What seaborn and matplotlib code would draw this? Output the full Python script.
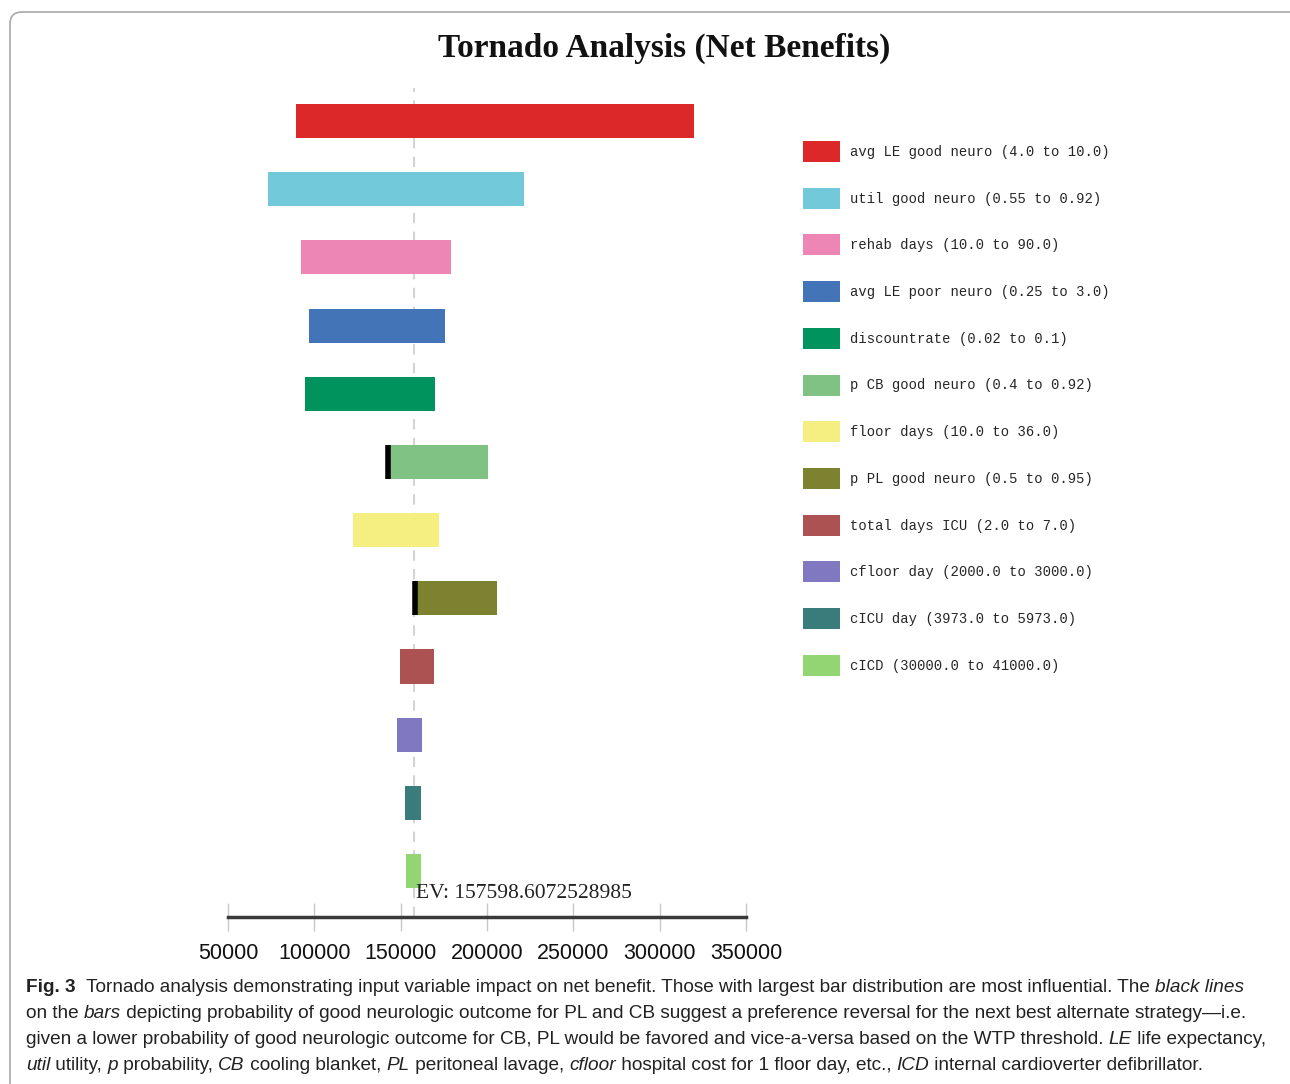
import numpy as np
import pandas as pd
import matplotlib
matplotlib.use("Agg")
import matplotlib.pyplot as plt
import seaborn as sns
from matplotlib.patches import Patch, FancyBboxPatch
from matplotlib.transforms import blended_transform_factory

# ---- data ----
names = ['avg LE good neuro', 'util good neuro', 'rehab days', 'avg LE poor neuro',
         'discountrate', 'p CB good neuro', 'floor days', 'p PL good neuro',
         'total days ICU', 'cfloor day', 'cICU day', 'cICD']
ranges = ['(4.0 to 10.0)', '(0.55 to 0.92)', '(10.0 to 90.0)', '(0.25 to 3.0)',
          '(0.02 to 0.1)', '(0.4 to 0.92)', '(10.0 to 36.0)', '(0.5 to 0.95)',
          '(2.0 to 7.0)', '(2000.0 to 3000.0)', '(3973.0 to 5973.0)', '(30000.0 to 41000.0)']
low = [89400, 73200, 92300, 96900, 94600, 142000, 122400, 158300, 149600, 147900, 152500, 153100]
high = [319900, 221400, 179200, 175700, 169900, 200600, 172200, 205800, 169300, 162400, 161800, 161800]
colors = ['#dc2828', '#72c9d9', '#ee86b5', '#4374b8', '#00935e', '#80c283',
          '#f5ee80', '#7c8230', '#ad5252', '#8078c0', '#3a7c7c', '#93d572']
# preference reversal points (black lines)
switch_names = ['p CB good neuro', 'p PL good neuro']
switch_values = [142600, 158500]
ev = 157598.6072528985
ticks = [50000, 100000, 150000, 200000, 250000, 300000, 350000]

df = pd.DataFrame({'name': names, 'low': low, 'high': high})
df['width'] = df['high'] - df['low']

sns.set_style('white')
plt.rcParams['font.family'] = ['DejaVu Sans']

W, H = 1290, 1084
fig = plt.figure(figsize=(W / 100, H / 100), dpi=100)
ax = fig.add_axes([228 / W, 1 - 917 / H, 518 / W, (917 - 88) / H])

sns.barplot(data=df, y='name', x='width', hue='name', order=names, hue_order=names,
            palette=colors, orient='h', width=0.5, saturation=1, legend=False, ax=ax)
# float the bars: start each one at its low value
for p in ax.patches:
    idx = int(round(p.get_y() + p.get_height() / 2))
    p.set_x(low[idx])
    p.set_edgecolor('none')

for n, v in zip(switch_names, switch_values):
    i = names.index(n)
    ax.vlines(v, i - 0.25, i + 0.25, color='black', lw=4, zorder=5)

ax.axvline(ev, color='#d4d4d4', ls=(0, (5, 4)), lw=1.5, zorder=0)
trans = blended_transform_factory(ax.transData, ax.transAxes)
ax.text(ev + 1500, 0.028, f'EV: {ev}', transform=trans, ha='left', va='center',
        family=['Liberation Serif'], fontsize=15.5, color='#222222')

ax.set_xlim(50000, 350000)
ax.set_ylim(11.674, -0.484)
ax.set_xticks(ticks)
ax.set_xticklabels([str(t) for t in ticks], family=['Liberation Sans'], fontsize=15.5,
                   color='#111111')
ax.set_yticks([])
ax.set_xlabel('')
ax.set_ylabel('')
for s in ['top', 'left', 'right']:
    ax.spines[s].set_visible(False)
ax.spines['bottom'].set_color('#3a3a3a')
ax.spines['bottom'].set_linewidth(2.5)
ax.tick_params(axis='x', bottom=True, direction='inout', length=20, width=1,
               color='#c8c8c8', pad=9)

# title
fig.text(664 / W, 1 - 48 / H, 'Tornado Analysis (Net Benefits)', ha='center', va='center',
         family=['Liberation Serif'], weight='bold', fontsize=24, color='#111111')

# legend
handles = [Patch(facecolor=c, edgecolor='none') for c in colors]
labels = [f'{n} {r}' for n, r in zip(names, ranges)]
fig.legend(handles, labels, loc='upper left', bbox_to_anchor=(803 / W, 1 - 141 / H),
           frameon=False, prop={'family': 'Liberation Mono', 'size': 10},
           handlelength=2.66, handleheight=1.95, handletextpad=0.72,
           labelspacing=1.85, borderpad=0, borderaxespad=0)

# figure frame (only the top and left edges fall inside the picture)
fig.patches.append(FancyBboxPatch((0.10, -0.3), 12.96, 11.02,
                                  boxstyle='round,pad=0,rounding_size=0.12',
                                  transform=fig.dpi_scale_trans, facecolor='none',
                                  edgecolor='#a8a8a8', lw=1.2))

# caption with mixed styles
cap_lines = [
    [('Fig. 3', 'normal', 'bold'),
     ('  Tornado analysis demonstrating input variable impact on net benefit. Those with largest bar distribution are most influential. The ', 'normal', 'normal'),
     ('black lines', 'italic', 'normal')],
    [('on the ', 'normal', 'normal'), ('bars', 'italic', 'normal'),
     (' depicting probability of good neurologic outcome for PL and CB suggest a preference reversal for the next best alternate strategy\u2014i.e.', 'normal', 'normal')],
    [('given a lower probability of good neurologic outcome for CB, PL would be favored and vice-a-versa based on the WTP threshold. ', 'normal', 'normal'),
     ('LE', 'italic', 'normal'), (' life expectancy,', 'normal', 'normal')],
    [('util', 'italic', 'normal'), (' utility, ', 'normal', 'normal'), ('p', 'italic', 'normal'),
     (' probability, ', 'normal', 'normal'), ('CB', 'italic', 'normal'),
     (' cooling blanket, ', 'normal', 'normal'), ('PL', 'italic', 'normal'),
     (' peritoneal lavage, ', 'normal', 'normal'), ('cfloor', 'italic', 'normal'),
     (' hospital cost for 1 floor day, etc., ', 'normal', 'normal'), ('ICD', 'italic', 'normal'),
     (' internal cardioverter defibrillator.', 'normal', 'normal')],
]
cap_y = [987, 1013, 1040, 1066]
cap_font = ['Liberation Sans']
cap_size = 14
cap_texts = []
first_line = []
for li, (pieces, yy) in enumerate(zip(cap_lines, cap_y)):
    prev = None
    for txt, style, weight in pieces:
        if prev is None:
            t = fig.text(26 / W, 1 - yy / H, txt, ha='left', va='center', family=cap_font,
                         style=style, weight=weight, fontsize=cap_size, color='#222222')
        else:
            t = ax.annotate(txt, xy=(1, 0.5), xycoords=prev, ha='left', va='center',
                            family=cap_font, style=style, weight=weight,
                            fontsize=cap_size, color='#222222', annotation_clip=False)
        cap_texts.append(t)
        if li == 0:
            first_line.append(t)
        prev = t

# fit the first caption line to its width in the picture
fig.canvas.draw()
r = fig.canvas.get_renderer()
x0 = first_line[0].get_window_extent(r).x0
x1 = first_line[-1].get_window_extent(r).x1
scale = (1263 - 26) / (x1 - x0)
for t in cap_texts:
    t.set_fontsize(cap_size * scale)

fig.savefig('out.png', dpi=100)
